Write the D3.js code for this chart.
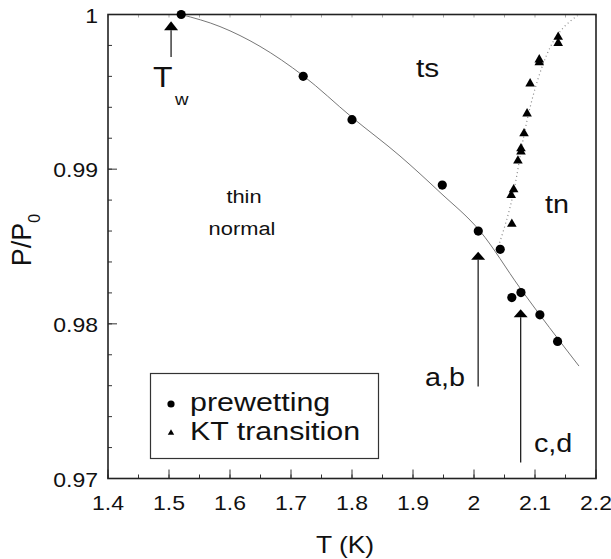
<!DOCTYPE html>
<html>
<head>
<meta charset="utf-8">
<script src="https://cdn.jsdelivr.net/npm/d3@7"></script>
<style>
body { margin: 0; background: #fff; }
svg text { font-family: "Liberation Sans", Arial, Helvetica, sans-serif; fill: #111; }
</style>
</head>
<body>
<div id="chart"></div>
<script>
// prewetting points (circles)
var prewetT = [1.52, 1.72, 1.80, 1.948, 2.007, 2.043, 2.062, 2.077, 2.108, 2.137];
var prewetP = [1.0, 0.9960, 0.9932, 0.98897, 0.9860, 0.98482, 0.98170, 0.98202, 0.98058, 0.97886];
// KT transition points (triangles)
var ktT = [2.138, 2.138, 2.107, 2.107, 2.092, 2.087, 2.082, 2.077, 2.077, 2.072, 2.065, 2.061, 2.062];
var ktP = [0.99854, 0.99815, 0.99708, 0.99690, 0.99553, 0.99359, 0.99230, 0.99134, 0.99112, 0.99054, 0.98869, 0.98832, 0.98645];
// solid prewetting line
var lineT = [1.5197, 1.5836, 1.6492, 1.7197, 1.80, 1.8787, 1.9443, 2.0098, 2.0754, 2.1721];
var lineP = [1.0, 0.99922, 0.99794, 0.99605, 0.99335, 0.99085, 0.98850, 0.98600, 0.98232, 0.97727];
// dotted KT line
var dotT = [2.040, 2.065, 2.087, 2.125, 2.17];
var dotP = [0.98500, 0.98853, 0.99316, 0.99789, 0.99994];
// axis ticks
var xTicks = [1.4, 1.5, 1.6, 1.7, 1.8, 1.9, 2, 2.1, 2.2];
var yTicks = [0.97, 0.98, 0.99, 1];

var W = 611, H = 559;
var svg = d3.select("#chart").append("svg").attr("width", W).attr("height", H);

var x = d3.scaleLinear().domain([1.4, 2.2]).range([108, 596]);
var y = d3.scaleLinear().domain([0.97, 1]).range([478.5, 14.5]);

// text is a bit wide in the scan, so stretch it sideways
function label(px, py, txt, size, anchor, sx) {
  return svg.append("text")
    .attr("transform", "translate(" + px + "," + py + ") scale(" + (sx || 1.15) + ",1)")
    .attr("text-anchor", anchor || "start").attr("font-size", size + "px").text(txt);
}

// minor ticks
var xMinor = d3.range(1.4, 2.2001, 0.05);
var yMinor = d3.range(0.97, 1.0001, 0.002);

var ax = svg.append("g");
ax.selectAll(".xmin").data(xMinor).enter().append("line")
  .attr("x1", d => x(d)).attr("x2", d => x(d))
  .attr("y1", y(0.97)).attr("y2", y(0.97) - 4)
  .attr("stroke", "#333").attr("stroke-width", 1);
ax.selectAll(".xmaj").data(xTicks).enter().append("line")
  .attr("x1", d => x(d)).attr("x2", d => x(d))
  .attr("y1", y(0.97)).attr("y2", y(0.97) - 9)
  .attr("stroke", "#333").attr("stroke-width", 1);
ax.selectAll(".xtop").data(xMinor).enter().append("line")
  .attr("x1", d => x(d)).attr("x2", d => x(d))
  .attr("y1", y(1)).attr("y2", y(1) + 3)
  .attr("stroke", "#aaa").attr("stroke-width", 1);
ax.selectAll(".ymin").data(yMinor).enter().append("line")
  .attr("x1", x(1.4)).attr("x2", x(1.4) + 4)
  .attr("y1", d => y(d)).attr("y2", d => y(d))
  .attr("stroke", "#333").attr("stroke-width", 1);
ax.selectAll(".ymaj").data(yTicks).enter().append("line")
  .attr("x1", x(1.4)).attr("x2", x(1.4) + 9)
  .attr("y1", d => y(d)).attr("y2", d => y(d))
  .attr("stroke", "#333").attr("stroke-width", 1);

// frame
svg.append("rect")
  .attr("x", x(1.4)).attr("y", y(1))
  .attr("width", x(2.2) - x(1.4)).attr("height", y(0.97) - y(1))
  .attr("fill", "none").attr("stroke", "#222").attr("stroke-width", 1.6);

// tick labels
xTicks.forEach(function (d) { label(x(d), y(0.97) + 31, d3.format("")(d), 20, "middle"); });
yTicks.forEach(function (d) { label(x(1.4) - 10, y(d) + 8, d3.format("")(d), 20, "end"); });

// axis titles
label(345, 553, "T (K)", 23, "middle");
var yl = svg.append("text").attr("transform", "translate(31,240) rotate(-90)")
  .attr("text-anchor", "middle").attr("font-size", "27px");
yl.append("tspan").text("P/P");
yl.append("tspan").attr("font-size", "16px").attr("dy", 9).text("0");

// solid prewetting line
var smooth = d3.line().x(d => x(d[0])).y(d => y(d[1])).curve(d3.curveMonotoneX);
svg.append("path").datum(d3.zip(lineT, lineP))
  .attr("d", smooth).attr("fill", "none").attr("stroke", "#777").attr("stroke-width", 1);

// dotted KT line
svg.append("path").datum(d3.zip(dotT, dotP))
  .attr("d", d3.line().x(d => x(d[0])).y(d => y(d[1])).curve(d3.curveNatural))
  .attr("fill", "none").attr("stroke", "#888")
  .attr("stroke-width", 1.2).attr("stroke-dasharray", "1,3");

// circles
svg.selectAll(".pw").data(d3.zip(prewetT, prewetP)).enter().append("circle")
  .attr("cx", d => x(d[0])).attr("cy", d => y(d[1])).attr("r", 4.6).attr("fill", "#000");

// triangles
var tri = d3.symbol().type(d3.symbolTriangle).size(40);
svg.selectAll(".kt").data(d3.zip(ktT, ktP)).enter().append("path")
  .attr("d", tri).attr("transform", d => "translate(" + x(d[0]) + "," + y(d[1]) + ")")
  .attr("fill", "#000");

// arrows
function arrow(t, pTip, pEnd, hw, hh) {
  var cx = x(t), ty = y(pTip), by = y(pEnd);
  svg.append("line").attr("x1", cx).attr("x2", cx).attr("y1", ty + hh).attr("y2", by)
    .attr("stroke", "#222").attr("stroke-width", 1.3);
  svg.append("path")
    .attr("d", "M" + cx + "," + ty + "L" + (cx - hw) + "," + (ty + hh) + "L" + (cx + hw) + "," + (ty + hh) + "Z")
    .attr("fill", "#000");
}
arrow(1.5034, 0.99957, 0.99725, 7, 9);
arrow(2.0068, 0.98466, 0.97595, 7, 8);
arrow(2.0765, 0.98095, 0.97103, 7, 8);

// annotation text
label(153, 87, "T", 29, "start", 1.1);
label(175, 105, "w", 17, "start", 1.1);
label(416, 77, "ts", 26);
label(545, 213, "tn", 25);
label(244, 203, "thin", 19, "middle");
label(242, 235, "normal", 19, "middle");
label(465, 386, "a,b", 25, "end");
label(534, 452, "c,d", 25);

// legend
var lg = svg.append("g");
lg.append("rect").attr("x", 150.5).attr("y", 373.5).attr("width", 228).attr("height", 85)
  .attr("fill", "#fff").attr("stroke", "#333").attr("stroke-width", 1.2);
lg.append("circle").attr("cx", 171).attr("cy", 404).attr("r", 3.6).attr("fill", "#000");
lg.append("path").attr("d", d3.symbol().type(d3.symbolTriangle).size(18))
  .attr("transform", "translate(171,433)").attr("fill", "#000");
label(190, 411, "prewetting", 26, "start", 1.17);
label(190, 440, "KT transition", 26, "start", 1.17);
</script>
</body>
</html>
